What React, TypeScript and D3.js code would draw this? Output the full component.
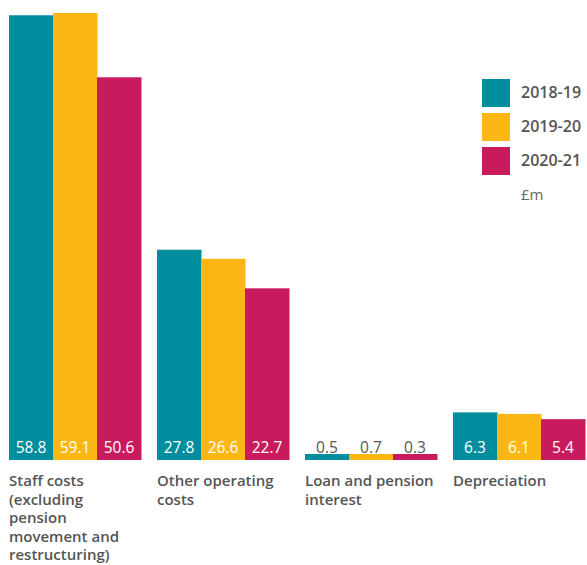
import React from "react";
import * as d3 from "d3";

const categories: string[][] = [
  ["Staff costs", "(excluding", "pension", "movement and", "restructuring)"],
  ["Other operating", "costs"],
  ["Loan and pension", "interest"],
  ["Depreciation"],
];
const seriesNames = ["2018-19", "2019-20", "2020-21"];
const values2018 = [58.8, 27.8, 0.5, 6.3];
const values2019 = [59.1, 26.6, 0.7, 6.1];
const values2021 = [50.6, 22.7, 0.3, 5.4];
const colors = ["#008E9E", "#FDB714", "#C81B5E"];
const unitLabel = "£m";

const W = 587;
const H = 565;
const baseline = 460;
const FONT = "'Open Sans', Lato, sans-serif";

export default function App() {
  const series = [values2018, values2019, values2021];
  const x0 = d3
    .scaleBand<number>()
    .domain(d3.range(categories.length))
    .range([9, 9 + 3 * 148 + 132])
    .paddingInner(16 / 148)
    .paddingOuter(0);
  const x1 = d3
    .scaleBand<number>()
    .domain(d3.range(seriesNames.length))
    .range([0, x0.bandwidth()]);
  const y = d3.scaleLinear().domain([0, 59.1]).range([baseline, 13]);

  return (
    <svg
      width={W}
      height={H}
      style={{ position: "absolute", left: 0, top: 0, background: "#fff" }}
    >
      {categories.map((cat, ci) => (
        <g key={ci} transform={`translate(${x0(ci)},0)`}>
          {series.map((vals, si) => {
            const v = vals[ci];
            const h = Math.max(baseline - y(v), 6);
            const small = h < 30;
            return (
              <g key={si}>
                <rect
                  x={x1(si)}
                  y={baseline - h}
                  width={x1.bandwidth() + 0.5}
                  height={h}
                  fill={colors[si]}
                />
                <text
                  x={(x1(si) as number) + x1.bandwidth() / 2}
                  y={baseline - 7.3}
                  textAnchor="middle"
                  fontFamily={FONT}
                  fontSize={15.5}
                  fill={small ? "#555" : "#fff"}
                >
                  {v.toFixed(1)}
                </text>
              </g>
            );
          })}
          {cat.map((line, li) => (
            <text
              key={li}
              x={0}
              y={486 + li * 18.6}
              fontFamily={FONT}
              fontSize={15}
              fontWeight={600}
              fill="#555"
            >
              {line}
            </text>
          ))}
        </g>
      ))}
      {seriesNames.map((name, i) => (
        <g key={name} transform={`translate(482,${79 + i * 34})`}>
          <rect width={28} height={28} fill={colors[i]} />
          <text
            x={39}
            y={19}
            fontFamily={FONT}
            fontSize={16}
            fontWeight={600}
            fill="#555"
          >
            {name}
          </text>
        </g>
      ))}
      <text x={521} y={200} fontFamily={FONT} fontSize={15} fill="#666">
        {unitLabel}
      </text>
    </svg>
  );
}
